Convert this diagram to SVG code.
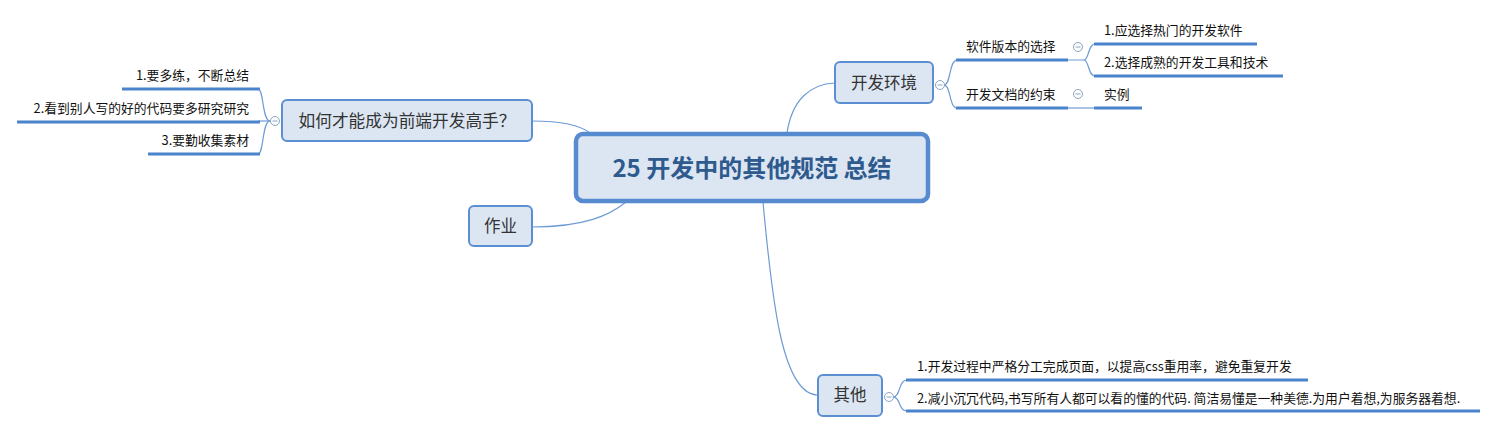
<svg xmlns="http://www.w3.org/2000/svg" width="1497" height="433" viewBox="0 0 1497 433">
<style>
.node{fill:#dce6f3;stroke:#5b8fd1;stroke-width:2}
.central{fill:#dce6f3;stroke:#578bd0;stroke-width:4.5}
.t{font-family:"Microsoft YaHei","Noto Sans CJK SC",sans-serif;fill:#333}
.nt{font-size:16.5px;text-anchor:middle}
.ct{font-size:24px;font-weight:bold;fill:#2e5a8e;text-anchor:middle}
.lt{font-size:12.8px;fill:#111}
.ul{stroke:#4a84cc;stroke-width:3;fill:none}
.c{stroke:#6d9bd6;stroke-width:1.2;fill:none}
.tog{fill:#fff;stroke:#8aa3c0;stroke-width:1}
.tm{stroke:#8aa3c0;stroke-width:1}
</style>
<rect width="1497" height="433" fill="#fff"/>
<g id="connectors">
<path class="c" d="M787,133 C792,100 810,84 835,83"/>
<path class="c" d="M532,121 C560,121 580,125 590,133"/>
<path class="c" d="M532,227 C585,227 610,215 626,202"/>
<path class="c" d="M763,202 C772,300 782,395 818,395"/>
<path class="c" d="M270,121 C262,121 264,89 258,89"/>
<path class="c" d="M270,121 L258,121"/>
<path class="c" d="M270,121 C262,121 264,154 258,154"/>
<path class="c" d="M944,85 C951,85 949,60 957,60"/>
<path class="c" d="M944,85 C951,85 949,108 957,108"/>
<path class="c" d="M1068,60 L1084,60 C1089,60 1088,44 1095,44"/>
<path class="c" d="M1084,60 C1089,60 1088,76 1095,76"/>
<path class="c" d="M1068,108 L1095,108"/>
<path class="c" d="M893,397 C901,397 898,380 907,380"/>
<path class="c" d="M893,397 C901,397 898,411 907,411"/>
</g>
<g id="central">
<rect class="central" x="576" y="134" width="352" height="67" rx="7"/>
<text class="t ct" x="752" y="177">25 开发中的其他规范 总结</text>
</g>
<g id="n-gaoshou">
<rect class="node" x="282" y="100" width="250" height="41" rx="5"/>
<text class="t nt" x="407" y="127" textLength="217" lengthAdjust="spacingAndGlyphs">如何才能成为前端开发高手？</text>
<circle class="tog" cx="275" cy="121" r="4.5"/><line class="tm" x1="272.5" y1="121" x2="277.5" y2="121"/>
</g>
<g id="g1"><text class="t lt" x="249" y="80" text-anchor="end">1.要多练，不断总结</text><line class="ul" x1="122" y1="89" x2="260" y2="89"/></g>
<g id="g2"><text class="t lt" x="249" y="113" text-anchor="end">2.看到别人写的好的代码要多研究研究</text><line class="ul" x1="17" y1="122" x2="260" y2="122"/></g>
<g id="g3"><text class="t lt" x="249" y="145" text-anchor="end">3.要勤收集素材</text><line class="ul" x1="148" y1="154" x2="260" y2="154"/></g>
<g id="n-zuoye">
<rect class="node" x="469" y="206" width="63" height="40" rx="5"/>
<text class="t nt" x="500.5" y="232">作业</text>
</g>
<g id="n-kaifa">
<rect class="node" x="835" y="62" width="98" height="41" rx="5"/>
<text class="t nt" x="884" y="89">开发环境</text>
<circle class="tog" cx="940" cy="85" r="4.5"/><line class="tm" x1="937.5" y1="85" x2="942.5" y2="85"/>
</g>
<g id="k1"><text class="t lt" x="966" y="51">软件版本的选择</text><line class="ul" x1="956" y1="60" x2="1068" y2="60"/>
<circle class="tog" cx="1078" cy="47" r="4.5"/><line class="tm" x1="1075.5" y1="47" x2="1080.5" y2="47"/></g>
<g id="k2"><text class="t lt" x="966" y="99">开发文档的约束</text><line class="ul" x1="956" y1="108" x2="1068" y2="108"/>
<circle class="tog" cx="1078" cy="94" r="4.5"/><line class="tm" x1="1075.5" y1="94" x2="1080.5" y2="94"/></g>
<g id="k11"><text class="t lt" x="1104" y="35">1.应选择热门的开发软件</text><line class="ul" x1="1094" y1="44" x2="1257" y2="44"/></g>
<g id="k12"><text class="t lt" x="1104" y="67">2.选择成熟的开发工具和技术</text><line class="ul" x1="1094" y1="76" x2="1283" y2="76"/></g>
<g id="k21"><text class="t lt" x="1104" y="99">实例</text><line class="ul" x1="1094" y1="108" x2="1142" y2="108"/></g>
<g id="n-qita">
<rect class="node" x="818" y="375" width="64" height="41" rx="5"/>
<text class="t nt" x="850" y="401">其他</text>
<circle class="tog" cx="889" cy="397" r="4.5"/><line class="tm" x1="886.5" y1="397" x2="891.5" y2="397"/>
</g>
<g id="q1"><text class="t lt" x="917" y="371">1.开发过程中严格分工完成页面，以提高css重用率，避免重复开发</text><line class="ul" x1="906" y1="380" x2="1308" y2="380"/></g>
<g id="q2"><text class="t lt" x="917" y="403">2.减小沉冗代码,书写所有人都可以看的懂的代码. 简洁易懂是一种美德.为用户着想,为服务器着想.</text><line class="ul" x1="906" y1="411" x2="1480" y2="411"/></g>
</svg>
